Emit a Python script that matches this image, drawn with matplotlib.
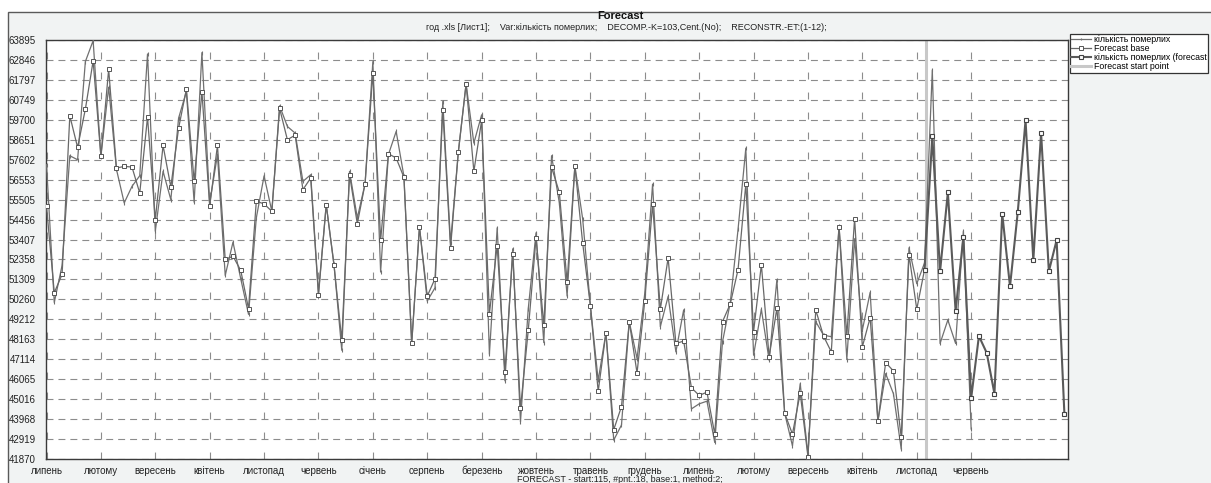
import matplotlib
matplotlib.use('Agg')
import matplotlib.pyplot as plt
import numpy as np
from matplotlib.patches import Rectangle

# ---------------- data ----------------
observed = [57340, 50100, 52040, 57810, 57600, 62760, 63860, 57780, 61413, 57100,
            55330, 56200, 56760, 63160, 53840, 56990, 55505, 59790, 61185, 55365,
            63230, 55330, 57860, 51520, 53270, 51340, 49474, 54540, 56750, 54890,
            60434, 59350, 59000, 56460, 56815, 50600, 55240, 52100, 47586, 56990,
            54545, 56345, 62758, 51700, 57870, 59088, 56728, 47953, 54070, 50173,
            50870, 60661, 53230, 58004, 61588, 58476, 59960, 47376, 54018, 45978,
            52917, 43828, 49771, 53757, 47988, 57812, 55330, 50435, 57287, 54504,
            49918, 46004, 48508, 42864, 43658, 49090, 47150, 50590, 56320, 48826,
            50413, 47500, 49707, 44505, 44770, 44910, 42740, 48032, 50095, 53940,
            58208, 47326, 49743, 47062, 51295, 44276, 42564, 45826, 42123, 49090,
            48385, 48296, 54116, 47097, 53450, 48650, 50625, 43852, 46356, 45298,
            42388, 52970, 51083, 52176, 62317, 47944, 49177, 47944, 53852, 43447]

forecast_base = [55155, 50610, 51570, 59910, 58250, 60260, 62794, 57780, 62357, 57165,
                 57250, 57218, 55850, 59840, 54456, 58350, 56170, 59260, 61308, 56465,
                 61185, 55155, 58350, 52358, 52530, 51781, 49770, 55420, 55280, 54890,
                 60300, 58651, 58895, 56030, 56640, 50470, 55240, 52043, 48128, 56815,
                 54230, 56345, 62182, 53370, 57917, 57690, 56675, 47953, 54071, 50435,
                 51344, 60224, 52970, 58004, 61588, 56990, 59665, 49509, 53092, 46467,
                 52655, 44527, 48635, 53494, 48897, 57200, 55889, 51170, 57270, 53234,
                 49918, 45420, 48508, 43410, 44629, 49090, 46392, 50200, 55261, 49743,
                 52441, 47943, 48067, 45615, 45210, 45386, 43180, 49090, 50025, 51823,
                 56320, 48561, 52088, 47238, 49796, 44276, 43180, 45333, 41983, 49707,
                 48332, 47500, 54081, 48360, 54504, 47768, 49302, 43852, 46938, 46497,
                 43005, 52617, 49743, 51824]

forecast = [51824, 58843, 51735, 55880, 49654, 53552, 45069, 48332, 47450, 45298,
            54769, 50942, 54857, 59672, 52318, 59019, 51735, 53375, 44240]
forecast_start = 113

month_labels = ['липень', 'лютому', 'вересень', 'квітень', 'листопад', 'червень',
                'січень', 'серпень', 'березень', 'жовтень', 'травень', 'грудень',
                'липень', 'лютому', 'вересень', 'квітень', 'листопад', 'червень']
month_step = 7

y_ticks = [41870, 42919, 43968, 45016, 46065, 47114, 48163, 49212, 50260, 51309,
           52358, 53407, 54456, 55505, 56553, 57602, 58651, 59700, 60749, 61797,
           62846, 63895]

series_names = ['кількість померлих', 'Forecast base',
                'кількість померлих (forecast', 'Forecast start point']

title = 'Forecast'
subtitle = ('год .xls [Лист1];    Var:кількість померлих;    DECOMP.-K=103,Cent.(No);'
            '    RECONSTR.-ET:(1-12);')
footer = 'FORECAST - start:115, #pnt.:18, base:1, method:2;'

# ---------------- style ----------------
plt.rcParams['font.family'] = ['Liberation Sans', 'DejaVu Sans']
plt.rcParams['lines.scale_dashes'] = False

W, H = 1211, 483
fig = plt.figure(figsize=(W / 100, H / 100), dpi=100)
fig.patch.set_facecolor('white')

# outer panel frame
fig.patches.append(Rectangle((8 / W, -0.2), 1.2, (H - 12) / H + 0.2,
                             transform=fig.transFigure, facecolor='#f1f3f3',
                             edgecolor='#5a5a5a', lw=1.0, zorder=-10))

ax = fig.add_axes([45.5 / W, 1 - 459 / H, (1067.5 - 45.5) / W, (459 - 40) / H])
ax.set_facecolor('white')

x_obs = np.arange(len(observed))
x_base = np.arange(len(forecast_base))
x_fc = np.arange(forecast_start, forecast_start + len(forecast))

ax.axvline(forecast_start + 0.15, color='#c8c8c8', lw=2.2, zorder=2,
           label=series_names[3])
l1, = ax.plot(x_obs, observed, color='#707070', lw=0.9, marker='|', ms=2.5,
              mew=0.8, zorder=3, label=series_names[0])
l2, = ax.plot(x_base, forecast_base, color='#686868', lw=0.9, marker='s', ms=3,
              mfc='white', mec='#555555', mew=0.7, zorder=4, label=series_names[1])
l3, = ax.plot(x_fc, forecast, color='#5a5a5a', lw=1.5, marker='s', ms=3.2,
              mfc='white', mec='#444444', mew=0.8, zorder=5, label=series_names[2])

ax.set_xlim(-0.13, 131.4)
ax.set_ylim(y_ticks[0], y_ticks[-1])

xt = np.arange(len(month_labels)) * month_step
ax.set_xticks(xt)
ax.set_xticklabels(month_labels, fontsize=7, color='#222222')
ax.set_yticks(y_ticks)
ax.set_yticklabels([str(v) for v in y_ticks], fontsize=7, color='#222222')
ax.tick_params(axis='both', length=0)
ax.tick_params(axis='y', pad=7)
ax.tick_params(axis='x', pad=5)

ax.grid(axis='y', color='#8c8c8c', lw=0.8, linestyle=(0, (5, 3.6)), zorder=1)
ax.grid(axis='x', color='#8c8c8c', lw=0.8, linestyle=(0, (5, 9.4)), zorder=1)

for s in ax.spines.values():
    s.set_color('#3a3a3a')
    s.set_linewidth(1.0)

# titles
fig.text(620 / W, 1 - 16 / H, title, ha='center', va='center', fontsize=8,
         fontweight='bold', color='#111111')
fig.text(626 / W, 1 - 28 / H, subtitle, ha='center', va='center', fontsize=6.5,
         color='#222222')
fig.text(620 / W, 1 - 480 / H, footer, ha='center', va='center', fontsize=6.5,
         color='#222222')

# legend
handles = [l1, l2, l3, ax.get_lines()[0]]
leg = fig.legend(handles, series_names, loc='upper left',
                 bbox_to_anchor=(1069.5 / W, 1 - 34 / H), fontsize=6.3,
                 frameon=True, fancybox=False, edgecolor='#333333',
                 framealpha=1, facecolor='white', borderpad=0.15,
                 labelspacing=0.0, handlelength=2.3, handletextpad=0.3,
                 borderaxespad=0, markerscale=0.8)
leg.get_frame().set_linewidth(0.9)

fig.savefig('out.png', dpi=100)
